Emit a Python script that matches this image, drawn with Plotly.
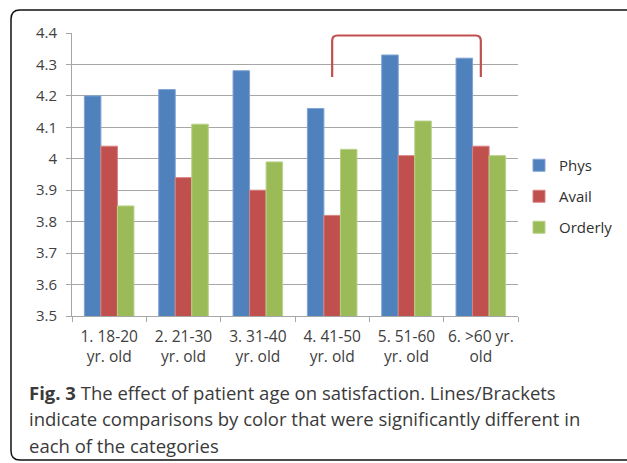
import plotly.graph_objects as go

categories = ["1. 18-20<br>yr. old", "2. 21-30<br>yr. old", "3. 31-40<br>yr. old",
              "4. 41-50<br>yr. old", "5. 51-60<br>yr. old", "6. >60 yr.<br>old"]
phys = [4.20, 4.22, 4.28, 4.16, 4.33, 4.32]
avail = [4.04, 3.94, 3.90, 3.82, 4.01, 4.04]
orderly = [3.85, 4.11, 3.99, 4.03, 4.12, 4.01]
series_names = ["Phys", "Avail", "Orderly"]
y_ticks = [3.5, 3.6, 3.7, 3.8, 3.9, 4.0, 4.1, 4.2, 4.3, 4.4]
y_tick_text = ["3.5", "3.6", "3.7", "3.8", "3.9", "4", "4.1", "4.2", "4.3", "4.4"]
caption_lines = ["<b>Fig. 3</b> The effect of patient age on satisfaction. Lines/Brackets",
                 "indicate comparisons by color that were significantly different in",
                 "each of the categories"]
bracket_from, bracket_to = 3, 5
bracket_low, bracket_high = 4.26, 4.392

W, H = 627, 463
L, R, T, B = 72, 518, 33, 316

def px(x):
    return (x - L) / (R - L)

def py(y):
    return (B - y) / (B - T)

colors = ["#4F81BD", "#C0504D", "#9BBB59"]
edges = ["#7FA3D3", "#D88280", "#B8D28A"]

fig = go.Figure()
for i, (name, vals) in enumerate(zip(series_names, [phys, avail, orderly])):
    fig.add_trace(go.Bar(x=categories, y=vals, name=name, legendgroup=name,
                         marker=dict(color=colors[i], line=dict(color=edges[i], width=1))))

font = "Open Sans, Liberation Sans, sans-serif"
fig.update_layout(
    width=W, height=H,
    margin=dict(l=L, r=W - R, t=T, b=H - B, autoexpand=False),
    paper_bgcolor="white", plot_bgcolor="white",
    barmode="group", bargap=0.333, bargroupgap=0,
    font=dict(family=font, size=15, color="#404040"),
    legend=dict(xref="container", yref="container", x=519 / W, y=1 - 149 / H,
                xanchor="left", yanchor="top",
                font=dict(size=15, color="#303030"), tracegroupgap=8.5,
                itemwidth=30),
    showlegend=True,
)
fig.update_yaxes(range=[3.5, 4.4], tickvals=y_ticks, ticktext=y_tick_text,
                 showgrid=True, gridcolor="#A6A6A6", gridwidth=1,
                 showline=True, linecolor="#A6A6A6", linewidth=1,
                 ticks="outside", ticklen=5, tickcolor="#A6A6A6", zeroline=False,
                 ticklabelstandoff=6, tickfont=dict(size=15))
fig.update_xaxes(showline=True, linecolor="#A6A6A6", linewidth=1,
                 ticks="outside", tickson="boundaries", ticklen=5, tickcolor="#A6A6A6",
                 showgrid=False, tickfont=dict(size=15.5), ticklabelstandoff=6,
                 tickangle=0)

# significance bracket
cx, cy = 0.07, 0.017
path = (f"M {bracket_from},{bracket_low} L {bracket_from},{bracket_high - cy} "
        f"Q {bracket_from},{bracket_high} {bracket_from + cx},{bracket_high} "
        f"L {bracket_to - cx},{bracket_high} "
        f"Q {bracket_to},{bracket_high} {bracket_to},{bracket_high - cy} "
        f"L {bracket_to},{bracket_low}")
fig.add_shape(type="path", path=path, xref="x", yref="y",
              line=dict(color="#C0504D", width=2.2))

# figure frame
x0, x1, y0, y1 = px(11), px(650), py(460), py(10)
rx, ry = 9 / (R - L), 9 / (B - T)
frame = (f"M {x0},{y1 - ry} Q {x0},{y1} {x0 + rx},{y1} L {x1},{y1} "
         f"M {x0},{y1 - ry} L {x0},{y0 + ry} Q {x0},{y0} {x0 + rx},{y0} L {x1},{y0}")
fig.add_shape(type="path", path=frame, xref="paper", yref="paper",
              line=dict(color="#111111", width=1.5))

for i, line in enumerate(caption_lines):
    fig.add_annotation(text=line, xref="paper", yref="paper",
                       x=px(27), y=py(392 + 26.5 * i), xanchor="left", yanchor="middle",
                       showarrow=False, font=dict(family=font, size=18.5, color="#3a3a3a"))

fig.write_html("out.html")
